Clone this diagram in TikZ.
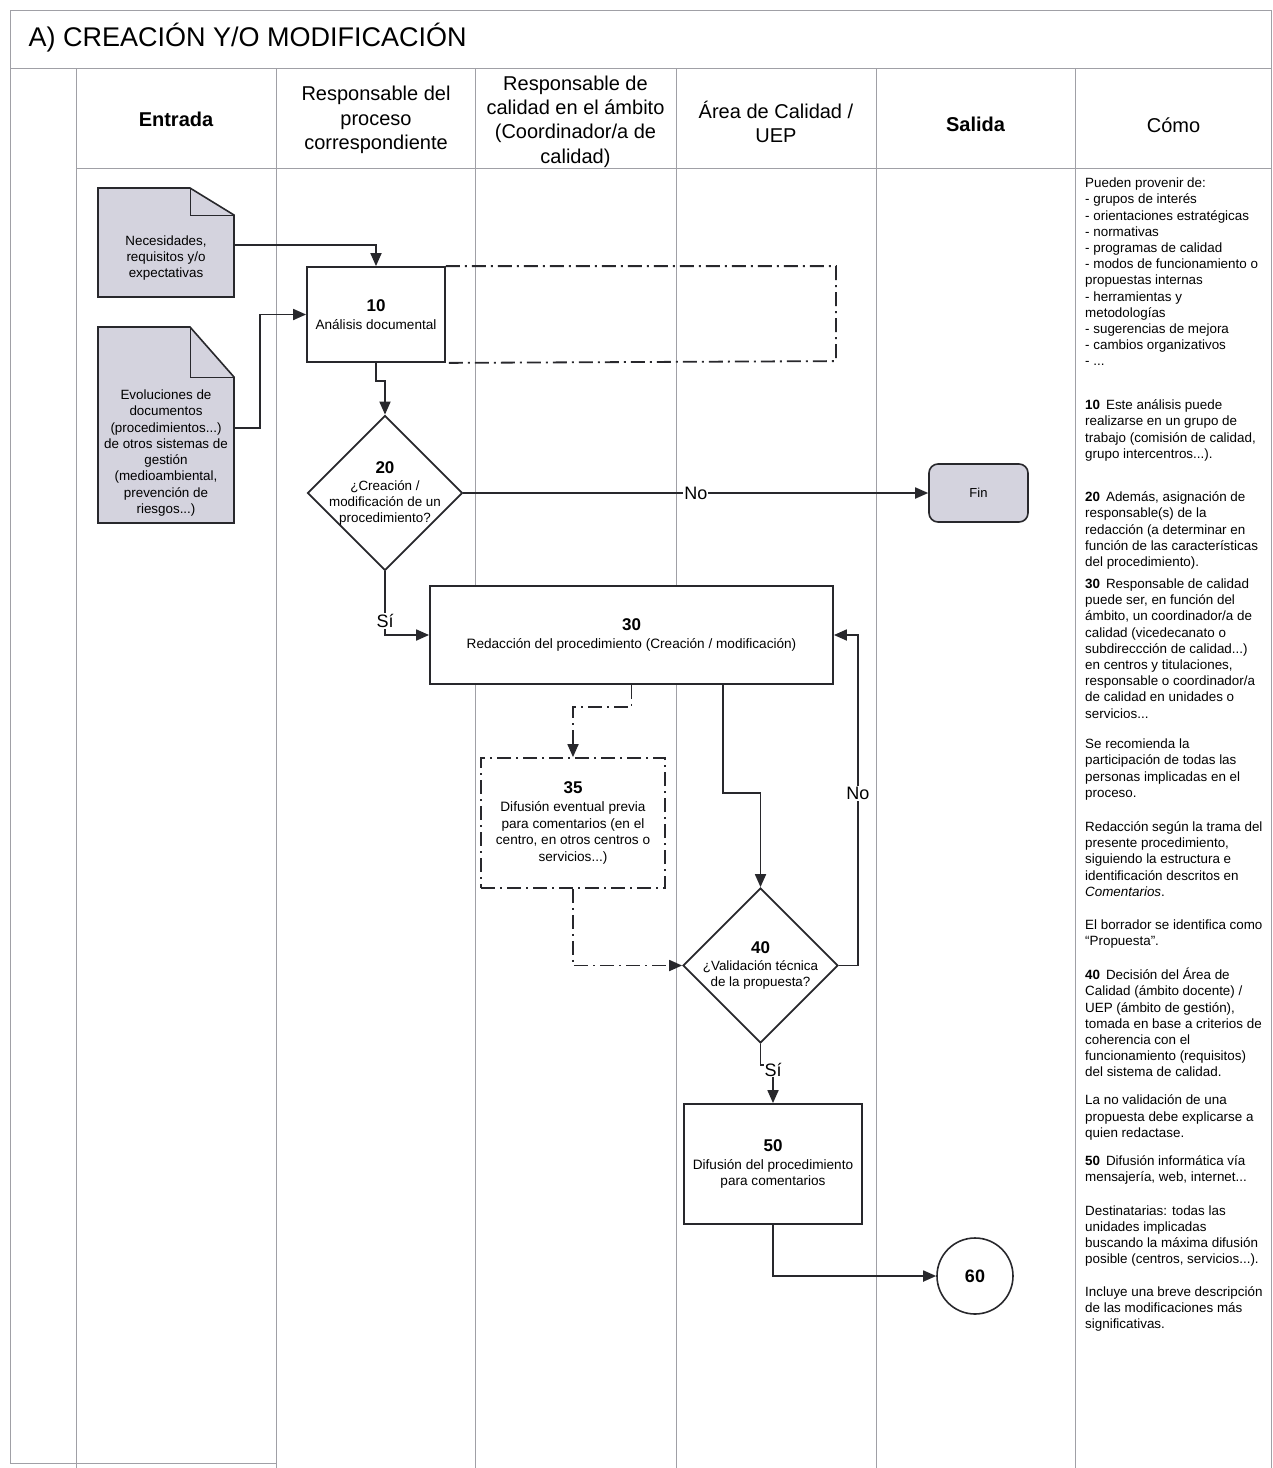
\documentclass[tikz,border=0pt]{standalone}
\usepackage{fontspec}
\setmainfont{Liberation Sans}
\usepackage{tikz}
\usetikzlibrary{positioning,arrows.meta,shapes.geometric}
\definecolor{linec}{RGB}{40,40,44}
\definecolor{gridc}{RGB}{160,160,166}
\definecolor{docc}{RGB}{212,211,222}

\tikzset{
  box/.style={draw=linec,line width=1.8pt,fill=white,align=center,inner sep=2pt,font=\fontsize{13.6}{16.4}\selectfont},
  dec/.style={diamond,draw=linec,line width=1.8pt,fill=white,align=center,inner sep=-20pt,minimum width=155pt,minimum height=155pt,font=\fontsize{13.4}{16}\selectfont},
  doctext/.style={align=center,inner sep=0pt,minimum width=136pt,font=\fontsize{13.4}{16.3}\selectfont},
  arr/.style={draw=linec,line width=1.8pt,-{Triangle[length=13pt,width=11pt]}},
  dashdot/.style={dash pattern=on 14pt off 5pt on 2pt off 5pt},
  lbl/.style={fill=white,inner sep=1pt,font=\fontsize{18}{18}\selectfont},
  hdr/.style={align=center,font=\fontsize{20}{24.3}\selectfont},
  como/.style={anchor=west,align=left,inner sep=0pt,font=\fontsize{13.4}{16.2}\selectfont},
  grid/.style={draw=gridc,line width=0.9pt}
}

\begin{document}
\begin{tikzpicture}[x=1pt,y=-1pt]
\useasboundingbox (0,0) rectangle (1273,1468);

% table
\draw[grid] (10,10) -- (1271,10);
\draw[grid] (10,68) -- (1271,68);
\draw[grid] (76,168) -- (1271,168);
\draw[grid] (10,10) -- (10,1463) -- (276,1463);
\draw[grid] (1271,10) -- (1271,1468);
\draw[grid] (76,68) -- (76,1468);
\draw[grid] (276,68) -- (276,1468);
\draw[grid] (475,68) -- (475,1468);
\draw[grid] (676,68) -- (676,1468);
\draw[grid] (876,68) -- (876,1468);
\draw[grid] (1075,68) -- (1075,1468);

\node[anchor=west,font=\fontsize{27}{30}\selectfont] (title) at (25,38) {A) CREACIÓN Y/O MODIFICACIÓN};

\node[hdr,font=\fontsize{20}{24.3}\selectfont\bfseries] (hent) at (176,119) {Entrada};
\node[hdr] (hrp) at (376,120) {Responsable del\\proceso\\correspondiente};
\node[hdr] (hrc) at (575.5,121.5) {Responsable de\\calidad en el ámbito\\(Coordinador/a de\\calidad)};
\node[hdr] (hac) at (776,122) {Área de Calidad /\\UEP};
\node[hdr,font=\fontsize{20}{24.3}\selectfont\bfseries] (hsal) at (975.5,124) {Salida};
\node[hdr] (hcomo) at (1173.5,125) {Cómo};

% entradas
\filldraw[fill=docc,draw=linec,line width=1.6pt] (98,188) -- (190,188) -- (234,215) -- (234,297) -- (98,297) -- cycle;
\draw[linec,line width=0.8pt] (190,188) -- (190,215) -- (234,215);
\node[doctext] (doca) at (166,258) {Necesidades,\\requisitos y/o\\expectativas};

\filldraw[fill=docc,draw=linec,line width=1.6pt] (98,327) -- (190,327) -- (234,377) -- (234,523) -- (98,523) -- cycle;
\draw[linec,line width=0.8pt] (190,327) -- (190,377) -- (234,377);
\node[doctext] (docb) at (166,453) {Evoluciones de\\documentos\\(procedimientos...)\\de otros sistemas de\\gestión\\(medioambiental,\\prevención de\\riesgos...)};

% pasos
\node[box,minimum width=138pt,minimum height=95pt] (b10) at (376,314.5) {{\fontsize{17}{20}\selectfont\bfseries 10}\\[1.5pt]Análisis documental};
\node[dec] (d20) at (385,493) {{\fontsize{17}{20}\selectfont\bfseries 20}\\[1pt]¿Creación /\\modificación de un\\procedimiento?};
\node[draw=linec,line width=1.6pt,fill=docc,rounded corners=9pt,minimum width=99pt,minimum height=58pt,font=\fontsize{13}{16}\selectfont] (fin) at (978.5,493) {Fin};
\node[box,minimum width=403pt,minimum height=98pt] (b30) at (631.5,635) {{\fontsize{17}{20}\selectfont\bfseries 30}\\[1.5pt]Redacción del procedimiento (Creación / modificación)};
\node[box,dashdot,minimum width=184pt,minimum height=130pt] (b35) at (573,823) {{\fontsize{17}{20}\selectfont\bfseries 35}\\[1.5pt]Difusión eventual previa\\para comentarios (en el\\centro, en otros centros o\\servicios...)};
\node[dec] (d40) at (760.5,965.5) {{\fontsize{17}{20}\selectfont\bfseries 40}\\[1pt]¿Validación técnica\\de la propuesta?};
\node[box,minimum width=178pt,minimum height=120pt] (b50) at (773,1164) {{\fontsize{17}{20}\selectfont\bfseries 50}\\[1.5pt]Difusión del procedimiento\\para comentarios};
\node[circle,draw=linec,line width=1.6pt,minimum size=76pt,font=\fontsize{18}{20}\selectfont\bfseries] (c60) at (975,1276) {60};

% conexiones
\draw[arr] ([yshift=13pt]doca.east) -| (b10.north);
\draw[arr] ([yshift=25pt]docb.east) -- ++(26,0) |- (b10.west);
\draw[linec,line width=1.8pt,dashdot] (b10.north east) -- ++(390,0) -- ++(0,95) -- (b10.south east);
\draw[arr] (b10.south) -- ++(0,18) -| (d20.north);
\draw[arr] (d20.east) -- node[lbl]{No} (fin.west);
\draw[arr] (d20.south) |- node[lbl,pos=0.39]{Sí} (b30.west);
\draw[arr,dashdot] (b30.south) -- ++(0,22) -| (b35.north);
\draw[arr] ([xshift=91.5pt]b30.south) -- ++(0,108) -| (d40.north);
\draw[arr,dashdot] (b35.south) |- (d40.west);
\draw[arr] (d40.east) -- ++(19,0) |- node[lbl,pos=0.26]{No} (b30.east);
\draw[arr] (d40.south) -- ++(0,21) -| node[lbl,pos=0.56]{Sí} (b50.north);
\draw[arr] (b50.south) |- (c60.west);

% como
\node[como] (p1) at (1085,272) {Pueden provenir de:\\- grupos de interés\\- orientaciones estratégicas\\- normativas\\- programas de calidad\\- modos de funcionamiento o\\propuestas internas\\- herramientas y\\metodologías\\- sugerencias de mejora\\- cambios organizativos\\- ...};
\node[como] (p2) at (1085,430.5) {\textbf{10}\, Este análisis puede\\realizarse en un grupo de\\trabajo (comisión de calidad,\\grupo intercentros...).};
\node[como] (p3) at (1085,530.5) {\textbf{20}\, Además, asignación de\\responsable(s) de la\\redacción (a determinar en\\función de las características\\del procedimiento).};
\node[como] (p4) at (1085,648.5) {\textbf{30}\, Responsable de calidad\\puede ser, en función del\\ámbito, un coordinador/a de\\calidad (vicedecanato o\\subdireccción de calidad...)\\en centros y titulaciones,\\responsable o coordinador/a\\de calidad en unidades o\\servicios...};
\node[como] (p5) at (1085,769.5) {Se recomienda la\\participación de todas las\\personas implicadas en el\\proceso.};
\node[como] (p6) at (1085,859) {Redacción según la trama del\\presente procedimiento,\\siguiendo la estructura e\\identificación descritos en\\\textit{Comentarios}.};
\node[como] (p7) at (1085,934) {El borrador se identifica como\\“Propuesta”.};
\node[como] (p8) at (1085,1022.5) {\textbf{40}\, Decisión del Área de\\Calidad (ámbito docente) /\\UEP (ámbito de gestión),\\tomada en base a criterios de\\coherencia con el\\funcionamiento (requisitos)\\del sistema de calidad.};
\node[como] (p9) at (1085,1117.5) {La no validación de una\\propuesta debe explicarse a\\quien redactase.};
\node[como] (p10) at (1085,1170) {\textbf{50}\, Difusión informática vía\\mensajería, web, internet...};
\node[como] (p11) at (1085,1236) {Destinatarias: todas las\\unidades implicadas\\buscando la máxima difusión\\posible (centros, servicios...).};
\node[como] (p12) at (1085,1309) {Incluye una breve descripción\\de las modificaciones más\\significativas.};
\end{tikzpicture}
\end{document}
